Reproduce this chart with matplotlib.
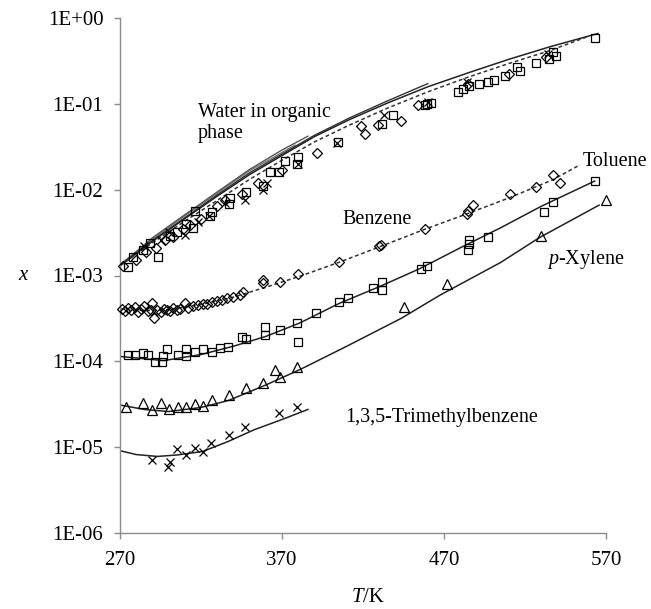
import matplotlib
matplotlib.use("Agg")
import matplotlib.pyplot as plt
from matplotlib.ticker import FixedLocator, FuncFormatter, NullLocator
import numpy as np

# ---------------- data ----------------
# Water in organic phase: experimental points
w_sq_T = [275, 278, 284, 288.5, 293.5, 301, 305, 311, 315, 316, 325.6, 327, 337, 338, 348, 358,
          362.6, 368, 372, 379, 380, 404.6, 431.7, 438.5, 458, 459.6, 462, 478.7, 482, 485.5,
          491.6, 497, 501, 507.6, 515, 517, 527, 535, 537, 539, 563]
w_sq_x = [1.24e-3, 1.66e-3, 2.0e-3, 2.4e-3, 1.66e-3, 2.9e-3, 3.2e-3, 4.0e-3, 3.6e-3, 5.6e-3, 4.9e-3,
          5.5e-3, 6.8e-3, 8.1e-3, 9.5e-3, 1.1e-2, 1.6e-2, 1.6e-2, 2.15e-2, 2.0e-2, 2.4e-2, 3.6e-2,
          5.8e-2, 7.4e-2, 0.097, 0.10, 0.102, 0.137, 0.148, 0.16, 0.17, 0.18, 0.19, 0.21, 0.27, 0.24,
          0.30, 0.33, 0.40, 0.36, 0.58]
w_di_T = [272, 280, 286, 292, 298, 303, 309, 313, 320, 330, 335, 345, 355, 370, 391.6, 419, 421,
          429, 443.5, 454, 485, 510, 533]
w_di_x = [1.3e-3, 1.5e-3, 1.9e-3, 2.1e-3, 2.6e-3, 2.8e-3, 3.5e-3, 3.9e-3, 4.6e-3, 6.5e-3, 7.5e-3,
          8.8e-3, 1.2e-2, 1.7e-2, 2.7e-2, 5.5e-2, 4.4e-2, 5.6e-2, 6.3e-2, 9.7e-2, 0.17, 0.22, 0.35]
w_cr_T = [285, 295, 300, 310, 318, 325, 335, 347, 358, 361, 380, 404, 433, 460, 484, 534]
w_cr_x = [2.2e-3, 2.6e-3, 3.2e-3, 3.0e-3, 4.2e-3, 5.0e-3, 7.0e-3, 7.5e-3, 1.0e-2, 1.2e-2, 2.0e-2,
          3.5e-2, 7.5e-2, 0.105, 0.18, 0.38]

# Water in organic phase: model curves
wl1_T = [270, 290, 310, 330, 350, 370, 390, 412, 435, 460, 485, 510, 535, 565]
wl1_x = [1.3e-3, 2.5e-3, 4.6e-3, 8.4e-3, 1.5e-2, 2.5e-2, 4.15e-2, 6.6e-2, 0.102, 0.158, 0.23,
         0.33, 0.46, 0.66]
wl2_T = [270, 290, 310, 330, 350, 370, 390, 412, 435, 460]
wl2_x = [1.3e-3, 2.55e-3, 4.7e-3, 8.7e-3, 1.57e-2, 2.6e-2, 4.3e-2, 6.9e-2, 0.108, 0.172]
wl3_T = [272, 290, 310, 330, 350, 370, 386]
wl3_x = [1.4e-3, 2.75e-3, 5.1e-3, 9.4e-3, 1.72e-2, 2.9e-2, 4.2e-2]
wl4_T = [270, 290, 310, 330, 350, 378]
wl4_x = [1.35e-3, 2.65e-3, 4.95e-3, 9.1e-3, 1.66e-2, 3.3e-2]
wld_T = [270, 290, 310, 330, 350, 370, 390, 412, 435, 460, 485, 510, 535, 558]
wld_x = [1.3e-3, 2.4e-3, 4.3e-3, 7.5e-3, 1.32e-2, 2.2e-2, 3.6e-2, 5.7e-2, 8.9e-2, 0.138, 0.205,
         0.295, 0.415, 0.60]

# Benzene (diamonds, dashed curve)
bz_T = [271, 273, 275, 277, 279, 281, 283, 285, 287, 289, 290, 291, 293, 295, 297, 299, 301, 303,
        305, 307, 310, 312, 315, 318, 321, 324, 327, 330, 333, 336, 340, 344, 346, 358, 358, 369,
        380, 405, 430, 431, 458, 484, 485, 488, 510.7, 527, 537, 541.6]
bz_x = [4.1e-4, 3.9e-4, 4.2e-4, 4.0e-4, 4.3e-4, 3.8e-4, 4.1e-4, 4.4e-4, 3.9e-4, 4.0e-4, 4.8e-4,
        3.2e-4, 4.0e-4, 3.8e-4, 4.1e-4, 4.0e-4, 3.9e-4, 4.2e-4, 4.0e-4, 4.1e-4, 4.8e-4, 4.2e-4,
        4.4e-4, 4.5e-4, 4.7e-4, 4.6e-4, 4.9e-4, 5.0e-4, 5.2e-4, 5.4e-4, 5.6e-4, 6.0e-4, 6.5e-4,
        8.9e-4, 8.1e-4, 8.3e-4, 1.03e-3, 1.42e-3, 2.2e-3, 2.25e-3, 3.5e-3, 5.2e-3, 5.6e-3, 6.7e-3,
        8.9e-3, 1.07e-2, 1.5e-2, 1.2e-2]
bzl_T = [270, 285, 300, 320, 340, 360, 381, 405, 430, 458, 485, 510, 537, 554]
bzl_x = [4.1e-4, 3.9e-4, 4.0e-4, 4.6e-4, 5.6e-4, 7.3e-4, 9.8e-4, 1.42e-3, 2.15e-3, 3.45e-3,
         5.3e-3, 8.0e-3, 1.3e-2, 1.95e-2]

# Toluene (squares, solid curve)
tl_T = [275, 279, 284, 287, 291.6, 296, 296.5, 299, 306, 310.7, 311, 316, 321, 327, 332, 336.7,
        345, 348, 359.5, 359.5, 369, 379, 380, 391, 405, 410.7, 426, 431.7, 431.7, 455.8, 459.5,
        484.8, 485.5, 485.5, 497, 531.7, 537, 563]
tl_x = [1.2e-4, 1.2e-4, 1.25e-4, 1.17e-4, 9.7e-5, 9.7e-5, 1.15e-4, 1.38e-4, 1.17e-4, 1.14e-4,
        1.38e-4, 1.27e-4, 1.38e-4, 1.3e-4, 1.42e-4, 1.48e-4, 1.9e-4, 1.8e-4, 2.5e-4, 2.0e-4,
        2.3e-4, 2.8e-4, 1.7e-4, 3.7e-4, 4.9e-4, 5.5e-4, 7.2e-4, 8.3e-4, 6.7e-4, 1.2e-3, 1.28e-3,
        1.96e-3, 2.6e-3, 2.3e-3, 2.8e-3, 5.5e-3, 7.1e-3, 1.26e-2]
tll_T = [270, 297, 320, 340, 360, 381, 405, 430, 455, 480, 505, 530, 563]
tll_x = [1.14e-4, 1.02e-4, 1.2e-4, 1.5e-4, 1.95e-4, 2.8e-4, 4.7e-4, 7.4e-4, 1.2e-3, 2.1e-3,
         3.6e-3, 6.4e-3, 1.26e-2]

# p-Xylene (triangles, solid curve)
px_T = [273.7, 284, 290, 295, 300, 306, 311, 316, 321, 327, 337, 348, 358, 365.7, 369, 379, 445,
        472, 530, 570]
px_x = [2.9e-5, 3.3e-5, 2.7e-5, 3.3e-5, 2.75e-5, 2.9e-5, 2.95e-5, 3.2e-5, 3.0e-5, 3.5e-5, 4.1e-5,
        4.9e-5, 5.6e-5, 8.0e-5, 6.6e-5, 8.7e-5, 4.3e-4, 7.9e-4, 2.9e-3, 7.6e-3]
pxl_T = [270, 285, 300, 320, 337, 360, 381, 410, 444, 467.5, 505, 529, 565.7]
pxl_x = [3.1e-5, 2.75e-5, 2.6e-5, 2.9e-5, 3.5e-5, 5.3e-5, 8.0e-5, 1.5e-4, 3.2e-4, 5.9e-4, 1.42e-3,
         2.77e-3, 6.6e-3]

# 1,3,5-Trimethylbenzene (crosses, solid curve)
tm_T = [289.6, 301, 299.8, 305, 310.7, 316, 321, 326, 337, 347, 368, 379]
tm_x = [7.1e-6, 6.8e-6, 5.9e-6, 9.6e-6, 8.1e-6, 9.8e-6, 8.9e-6, 1.12e-5, 1.4e-5, 1.7e-5, 2.5e-5,
        2.9e-5]
tml_T = [270, 280, 293, 305, 321, 337, 353, 370, 386]
tml_x = [9.1e-6, 8.2e-6, 7.8e-6, 8.1e-6, 8.9e-6, 1.17e-5, 1.6e-5, 2.1e-5, 2.75e-5]

x_ticks = [270, 370, 470, 570]
y_ticks = [1e-6, 1e-5, 1e-4, 1e-3, 1e-2, 1e-1, 1e0]
y_tick_labels = ["1E-06", "1E-05", "1E-04", "1E-03", "1E-02", "1E-01", "1E+00"]

# ---------------- drawing ----------------
plt.rcParams["font.family"] = ["Liberation Serif", "DejaVu Serif"]
plt.rcParams["mathtext.fontset"] = "custom"
plt.rcParams["mathtext.rm"] = "Liberation Serif"
plt.rcParams["mathtext.it"] = "Liberation Serif:italic"

fig = plt.figure(figsize=(6.51, 6.09), dpi=100)
ax = fig.add_axes([120 / 651, 1 - 533 / 609, 486 / 651, 515 / 609])

mk = dict(linestyle="none", markerfacecolor="none", markeredgecolor="black",
          markeredgewidth=0.9, zorder=3, clip_on=False)

# water curves
ax.plot(wl4_T, wl4_x, color="#777777", lw=1.0, zorder=2)
ax.plot(wl3_T, wl3_x, color="#555555", lw=1.0, zorder=2)
ax.plot(wl2_T, wl2_x, color="#333333", lw=1.0, zorder=2)
ax.plot(wl1_T, wl1_x, color="#222222", lw=1.1, zorder=2)
ax.plot(wld_T, wld_x, color="#333333", lw=1.1, ls=(0, (2.5, 1.8)), zorder=2)

ax.plot(w_sq_T, w_sq_x, marker="s", markersize=6, **mk)
ax.plot(w_di_T, w_di_x, marker="D", markersize=5, **mk)
ax.plot(w_cr_T, w_cr_x, marker="x", markersize=6, **mk)

# hydrocarbons in water
ax.plot(bzl_T, bzl_x, color="#333333", lw=1.1, ls=(0, (2.5, 1.8)), zorder=2)
ax.plot(bz_T, bz_x, marker="D", markersize=5, **mk)
ax.plot(tll_T, tll_x, color="#222222", lw=1.1, zorder=2)
ax.plot(tl_T, tl_x, marker="s", markersize=6, **mk)
ax.plot(pxl_T, pxl_x, color="#222222", lw=1.1, zorder=2)
ax.plot(px_T, px_x, marker="^", markersize=7, **mk)
ax.plot(tml_T, tml_x, color="#222222", lw=1.1, zorder=2)
ax.plot(tm_T, tm_x, marker="x", markersize=6, **mk)

ax.set_yscale("log")
ax.set_xlim(270, 570)
ax.set_ylim(1e-6, 1)
ax.xaxis.set_major_locator(FixedLocator(x_ticks))
ax.yaxis.set_major_locator(FixedLocator(y_ticks))
ax.yaxis.set_minor_locator(NullLocator())


def ylab(v, pos):
    i = int(np.argmin([abs(np.log10(t) - np.log10(v)) for t in y_ticks]))
    return y_tick_labels[i]


ax.yaxis.set_major_formatter(FuncFormatter(ylab))

for s in ["top", "right"]:
    ax.spines[s].set_visible(False)
for s in ["left", "bottom"]:
    ax.spines[s].set_color("#8c8c8c")
    ax.spines[s].set_linewidth(1.0)
ax.tick_params(axis="both", which="major", direction="out", length=4, width=1.0,
               color="#8c8c8c", labelsize=15, labelcolor="black")
ax.tick_params(axis="y", pad=8)
ax.tick_params(axis="x", pad=9)

# annotations
ax.text(318, 0.060, "Water in organic\nphase", fontsize=14.5, ha="left", va="center",
        linespacing=1.1)
ax.text(429, 4.5e-3, "Benzene", fontsize=14.5, ha="center", va="center")
ax.text(555.8, 0.0214, "Toluene", fontsize=14.5, ha="left", va="center")
ax.text(557.7, 1.55e-3, r"$\mathit{p}$-Xylene", fontsize=14.5, ha="center", va="center")
ax.text(408.9, 2.2e-5, "1,3,5-Trimethylbenzene", fontsize=14.5, ha="left", va="center")

fig.text(23 / 651, 1 - 276 / 609, "x", fontsize=15, style="italic", ha="center", va="center")
fig.text(363 / 651, 1 - 597 / 609, "T", fontsize=15, style="italic", ha="right", va="center")
fig.text(363 / 651, 1 - 597 / 609, "/K", fontsize=15, ha="left", va="center")

fig.savefig("out.png", dpi=100)
